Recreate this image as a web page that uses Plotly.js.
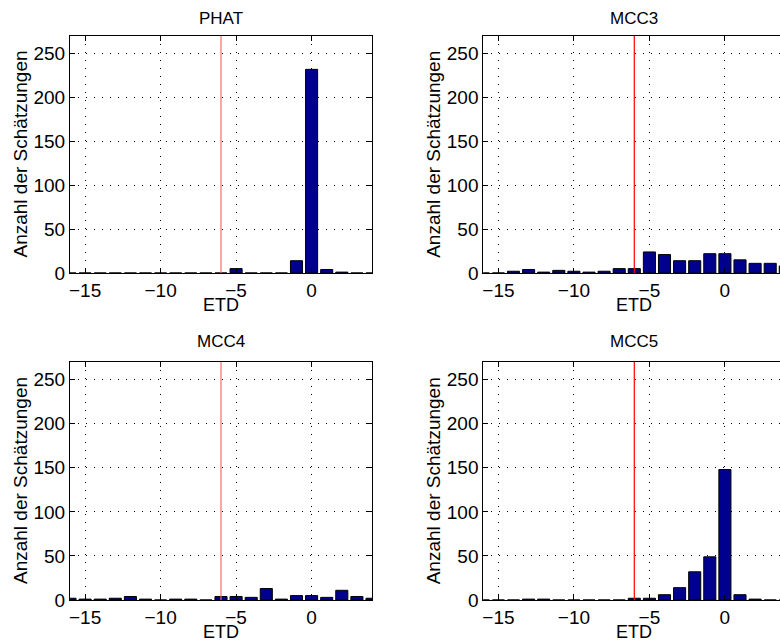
<!DOCTYPE html>
<html>
<head>
<meta charset="utf-8">
<script src="https://cdn.plot.ly/plotly-3.0.1.min.js"></script>
<style>
  html, body { margin: 0; padding: 0; background: #fff; overflow: hidden; }
  #wrap { width: 780px; height: 642px; overflow: hidden; position: relative; }
  #chart { width: 790px; height: 642px; }
</style>
</head>
<body>
<div id="wrap"><div id="chart"></div></div>
<script>
// ---- data ----
const bins = [-16, -15, -14, -13, -12, -11, -10, -9, -8, -7, -6, -5, -4, -3, -2, -1, 0, 1, 2, 3, 4];
const phat = [0, 0, 0, 0, 0, 0, 0, 0, 0, 0, 0, 5, 0, 0, 0, 14, 232, 4, 1, 0, 0];
const mcc3 = [0, 0, 2, 4, 1, 3, 2, 1, 2, 5, 5, 24, 21, 14, 14, 22, 22, 15, 11, 11, 8];
const mcc4 = [2, 1, 1, 2, 4, 1, 0, 1, 1, 0, 4, 4, 3, 13, 1, 5, 5, 3, 11, 4, 2];
const mcc5 = [0, 0, 0, 1, 1, 0, 0, 0, 0, 0, 2, 2, 6, 14, 32, 49, 148, 6, 1, 0, 0];
const panelTitles = ["PHAT", "MCC3", "MCC4", "MCC5"];
const xTickVals = [-15, -10, -5, 0];
const yTickVals = [0, 50, 100, 150, 200, 250];
const xRange = [-16, 4];
const yRange = [0, 270];
const trueDelay = -6;      // red reference line
const xLabel = "ETD";
const yLabel = "Anzahl der Schätzungen";

const W = 790, H = 642;
const FONT = '"Liberation Sans", Arial, Helvetica, sans-serif';
const series = [phat, mcc3, mcc4, mcc5];
const redColors = ['#ff6a6a', '#ff0000', '#ff6a6a', '#ff0000'];

// pixel geometry of the four axes boxes
const boxes = [
  {l: 70, r: 372, t: 36, b: 273, title: 18},
  {l: 483.3, r: 785.3, t: 36, b: 273, title: 18},
  {l: 70, r: 372, t: 362, b: 600, title: 341},
  {l: 483.3, r: 785.3, t: 362, b: 600, title: 341}
];

const traces = [];
const layout = {
  width: W, height: H,
  margin: {l: 0, r: 0, t: 0, b: 0},
  paper_bgcolor: '#fff', plot_bgcolor: '#fff',
  showlegend: false,
  font: {family: FONT, size: 18, color: '#000'},
  annotations: []
};

series.forEach((vals, i) => {
  const k = i === 0 ? '' : String(i + 1);
  const xa = 'x' + k, ya = 'y' + k;
  traces.push({
    type: 'bar', x: bins, y: vals, width: 0.8,
    xaxis: xa, yaxis: ya,
    marker: {color: '#00008f', line: {color: '#000', width: 1}},
    hoverinfo: 'x+y'
  });
  traces.push({
    type: 'scatter', mode: 'lines',
    x: [trueDelay, trueDelay], y: yRange,
    xaxis: xa, yaxis: ya,
    line: {color: redColors[i], width: 1.2},
    hoverinfo: 'skip', cliponaxis: true
  });
  const b = boxes[i];
  const common = {
    showline: true, linecolor: '#000', linewidth: 1, mirror: 'ticks',
    ticks: 'inside', ticklen: 5, tickcolor: '#000', tickwidth: 1,
    showgrid: true, gridcolor: '#000', gridwidth: 1, griddash: '1px,7px',
    zeroline: false, fixedrange: true,
    tickfont: {family: FONT, size: 19, color: '#000'}
  };
  layout['xaxis' + k] = Object.assign({}, common, {
    domain: [b.l / W, b.r / W], anchor: ya, range: xRange,
    tickmode: 'array', tickvals: xTickVals
  });
  layout['yaxis' + k] = Object.assign({}, common, {
    domain: [(H - b.b) / H, (H - b.t) / H], anchor: xa, range: yRange,
    tickmode: 'array', tickvals: yTickVals
  });
  const cx = (b.l + 302 / 2) / W;
  layout.annotations.push({
    text: panelTitles[i], xref: 'paper', yref: 'paper',
    x: cx, y: (H - b.title) / H, xanchor: 'center', yanchor: 'middle',
    showarrow: false, font: {family: FONT, size: 17, color: '#000'}
  });
  layout.annotations.push({
    text: xLabel, xref: 'paper', yref: 'paper',
    x: cx, y: (H - (b.b + 32)) / H, xanchor: 'center', yanchor: 'middle',
    showarrow: false, font: {family: FONT, size: 18, color: '#000'}
  });
  layout.annotations.push({
    text: yLabel, xref: 'paper', yref: 'paper', textangle: -90,
    x: (b.l - 50) / W, y: (H - (b.t + b.b) / 2) / H, xanchor: 'center', yanchor: 'middle',
    showarrow: false, font: {family: FONT, size: 19, color: '#000'}
  });
});

Plotly.newPlot('chart', traces, layout, {staticPlot: true, displayModeBar: false});
</script>
</body>
</html>
